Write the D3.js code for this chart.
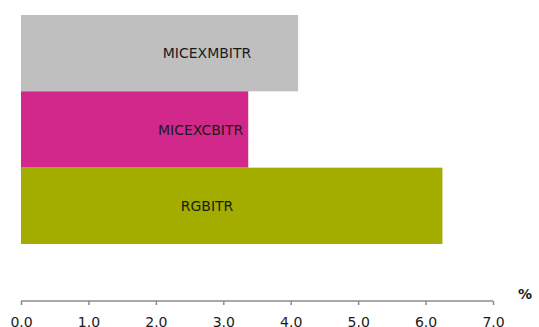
<!DOCTYPE html>
<html>
<head>
<meta charset="utf-8">
<script src="https://cdn.jsdelivr.net/npm/d3@7"></script>
<style>
  body { margin: 0; background: #fff; }
  svg { display: block; }
  text { font-family: "DejaVu Sans", Verdana, sans-serif; }
</style>
</head>
<body>
<svg width="539" height="327"></svg>
<script>
// data
var categories = ['MICEXMBITR', 'MICEXCBITR', 'RGBITR'];
var values = [4.11, 3.37, 6.25];
var colors = ['#bfbfbf', '#d2288b', '#a2ad00'];
var tickValues = [0, 1, 2, 3, 4, 5, 6, 7];

var svg = d3.select('svg');

// layout
var x0 = 21, x1 = 493;
var barTop = 15, barBottom = 244;
var axisY = 301;

var xScale = d3.scaleLinear().domain([0, 7]).range([x0, x1]);
var yScale = d3.scaleBand().domain(categories).range([barTop, barBottom]).padding(0);

// bars
var bars = svg.selectAll('.bar')
    .data(categories)
    .enter()
    .append('rect')
    .attr('class', 'bar')
    .attr('x', xScale(0))
    .attr('y', function (d) { return yScale(d); })
    .attr('width', function (d, i) { return xScale(values[i]) - xScale(0); })
    .attr('height', yScale.bandwidth())
    .attr('fill', function (d, i) { return colors[i]; });

// labels inside the bars, pulled left if they would overflow the bar end
var labelX = 207;
svg.selectAll('.bar-label')
    .data(categories)
    .enter()
    .append('text')
    .attr('class', 'bar-label')
    .attr('text-anchor', 'middle')
    .attr('font-size', '14px')
    .attr('fill', '#1a1a1a')
    .attr('y', function (d) { return yScale(d) + yScale.bandwidth() / 2 + 5; })
    .text(function (d) { return d; })
    .attr('x', function (d, i) {
        var w = this.getComputedTextLength();
        var end = xScale(values[i]) - 5;
        return Math.min(labelX, end - w / 2);
    });

// x axis
var xAxis = d3.axisBottom(xScale)
    .tickValues(tickValues)
    .tickSize(4)
    .tickPadding(12)
    .tickFormat(d3.format('.1f'));

var axisG = svg.append('g')
    .attr('transform', 'translate(0,' + axisY + ')')
    .call(xAxis);

axisG.select('.domain')
    .attr('stroke', '#8c8c8c')
    .attr('stroke-width', 1.5)
    .attr('d', 'M' + x0 + ',0H' + x1);
axisG.selectAll('.tick line')
    .attr('stroke', '#8c8c8c')
    .attr('stroke-width', 1.5);
axisG.selectAll('.tick text')
    .attr('font-size', '14px')
    .attr('font-family', '"DejaVu Sans", Verdana, sans-serif')
    .attr('fill', '#1a1a1a');

// unit label
svg.append('text')
    .attr('x', 518)
    .attr('y', 299)
    .attr('font-size', '14px')
    .attr('font-weight', 'bold')
    .attr('fill', '#1a1a1a')
    .text('%');
</script>
</body>
</html>
